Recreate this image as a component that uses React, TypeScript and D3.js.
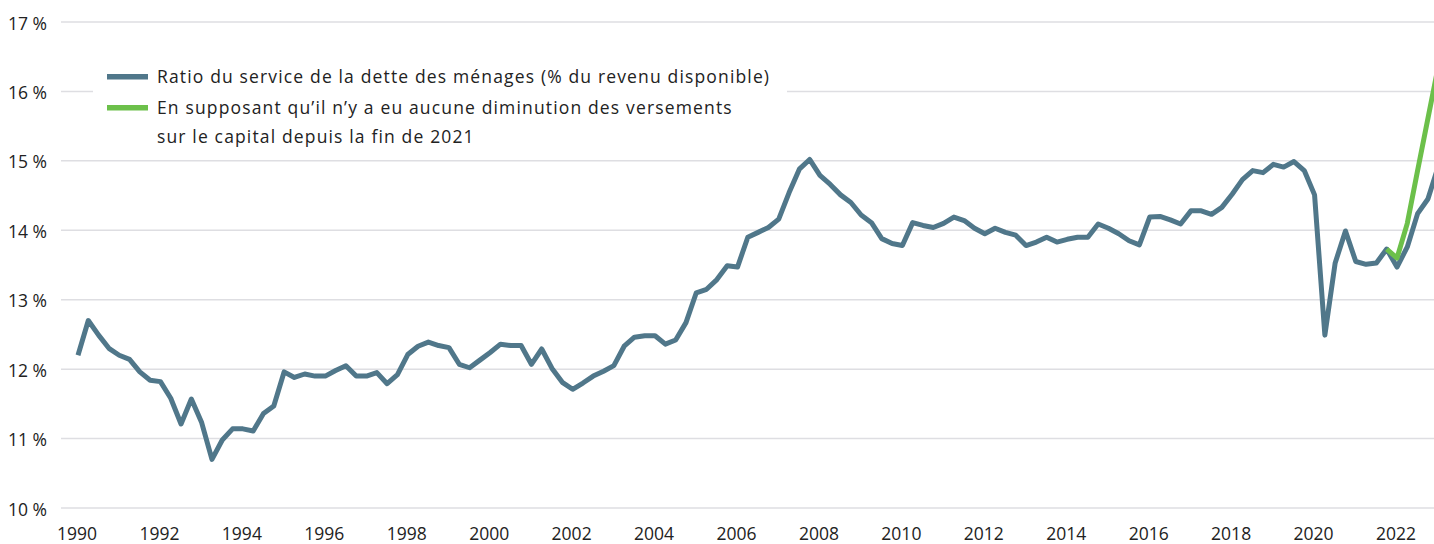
import { useEffect, useRef } from 'react';
import * as d3 from 'd3';

// quarterly data, starting 1990 Q1
const startYear = 1990;
const debtRatio = [
  12.20, 12.70, 12.49, 12.30, 12.20, 12.14, 11.96, 11.84, 11.82, 11.58, 11.21, 11.57,
  11.23, 10.70, 10.98, 11.14, 11.14, 11.11, 11.36, 11.47, 11.96, 11.88, 11.93, 11.90,
  11.90, 11.98, 12.05, 11.90, 11.90, 11.95, 11.79, 11.92, 12.21, 12.33, 12.39, 12.34,
  12.31, 12.07, 12.02, 12.13, 12.24, 12.36, 12.34, 12.34, 12.07, 12.29, 12.01, 11.81,
  11.71, 11.80, 11.90, 11.97, 12.05, 12.33, 12.46, 12.48, 12.48, 12.36, 12.42, 12.67,
  13.10, 13.15, 13.29, 13.49, 13.47, 13.90, 13.97, 14.04, 14.16, 14.54, 14.88, 15.02,
  14.79, 14.66, 14.51, 14.40, 14.22, 14.11, 13.88, 13.81, 13.78, 14.11, 14.07, 14.04,
  14.10, 14.19, 14.14, 14.03, 13.95, 14.03, 13.97, 13.93, 13.78, 13.83, 13.90, 13.83,
  13.87, 13.90, 13.90, 14.09, 14.03, 13.95, 13.85, 13.79, 14.19, 14.20, 14.15, 14.09,
  14.28, 14.28, 14.23, 14.33, 14.52, 14.73, 14.86, 14.83, 14.95, 14.91, 14.99, 14.86,
  14.51, 12.49, 13.53, 13.99, 13.55, 13.51, 13.53, 13.73, 13.47, 13.76, 14.24, 14.45,
  14.92,
];

// scenario: no decrease in principal payments since end of 2021 (starts 2021 Q4)
const scenarioStart = 2021.75;
const noPrincipalDrop = [13.73, 13.60, 14.10, 14.86, 15.61, 16.36];

const yTicks = [10, 11, 12, 13, 14, 15, 16, 17];
const xTicks = d3.range(1990, 2023, 2);

const legendLabels = [
  ['Ratio du service de la dette des ménages (% du revenu disponible)'],
  ['En supposant qu\u2019il n\u2019y a eu aucune diminution des versements', 'sur le capital depuis la fin de 2021'],
];

const W = 1434;
const H = 544;
const BLUE = '#50778a';
const GREEN = '#6cc04a';
const FONT = '"Open Sans", Lato, sans-serif';

export default function App() {
  const svgRef = useRef<SVGSVGElement>(null);

  useEffect(() => {
    if (!svgRef.current) return;
    const svg = d3.select(svgRef.current);
    svg.selectAll('*').remove();

    const x = d3.scaleLinear().domain([1990, 2022]).range([78, 1397]);
    const y = d3.scaleLinear().domain([10, 17]).range([508, 22]);

    // gridlines + y labels
    const grid = svg.append('g');
    grid.selectAll('line')
      .data(yTicks)
      .enter()
      .append('line')
      .attr('x1', 61)
      .attr('x2', W)
      .attr('y1', d => y(d))
      .attr('y2', d => y(d))
      .attr('stroke', '#dedee2')
      .attr('stroke-width', 1.5);

    grid.selectAll('text')
      .data(yTicks)
      .enter()
      .append('text')
      .attr('x', 47)
      .attr('y', d => y(d) + 7.5)
      .attr('text-anchor', 'end')
      .attr('font-family', FONT)
      .attr('font-size', 17.5)
      .attr('fill', '#222')
      .text(d => `${d} %`);

    // x labels
    svg.append('g')
      .selectAll('text')
      .data(xTicks)
      .enter()
      .append('text')
      .attr('x', d => x(d) - 1)
      .attr('y', 540)
      .attr('text-anchor', 'middle')
      .attr('font-family', FONT)
      .attr('font-size', 17.5)
      .attr('fill', '#222')
      .text(d => d);

    const line = d3.line<number>()
      .x((_, i) => x(startYear + i / 4))
      .y(d => y(d));

    const line2 = d3.line<number>()
      .x((_, i) => x(scenarioStart + i / 4))
      .y(d => y(d));

    svg.append('path')
      .datum(debtRatio)
      .attr('d', line)
      .attr('fill', 'none')
      .attr('stroke', BLUE)
      .attr('stroke-width', 5)
      .attr('stroke-linejoin', 'round');

    svg.append('path')
      .datum(noPrincipalDrop)
      .attr('d', line2)
      .attr('fill', 'none')
      .attr('stroke', GREEN)
      .attr('stroke-width', 5)
      .attr('stroke-linejoin', 'round');

    // legend with white background
    const legend = svg.append('g');
    legend.append('rect')
      .attr('x', 93)
      .attr('y', 52)
      .attr('width', 694)
      .attr('height', 100)
      .attr('fill', '#fff');

    const colors = [BLUE, GREEN];
    legendLabels.forEach((lines, k) => {
      const cy = 76.7 + k * 31;
      legend.append('line')
        .attr('x1', 107)
        .attr('x2', 148)
        .attr('y1', cy)
        .attr('y2', cy)
        .attr('stroke', colors[k])
        .attr('stroke-width', 5.5);
      lines.forEach((t, j) => {
        legend.append('text')
          .attr('x', 157)
          .attr('y', cy + 6.5 + j * 29)
          .attr('font-family', FONT)
          .attr('font-size', 17.5)
          .attr('letter-spacing', 1.15)
          .attr('fill', '#222')
          .text(t);
      });
    });
  }, []);

  return (
    <svg
      ref={svgRef}
      width={W}
      height={H}
      style={{ position: 'absolute', left: 0, top: 0, background: '#fff' }}
    />
  );
}
